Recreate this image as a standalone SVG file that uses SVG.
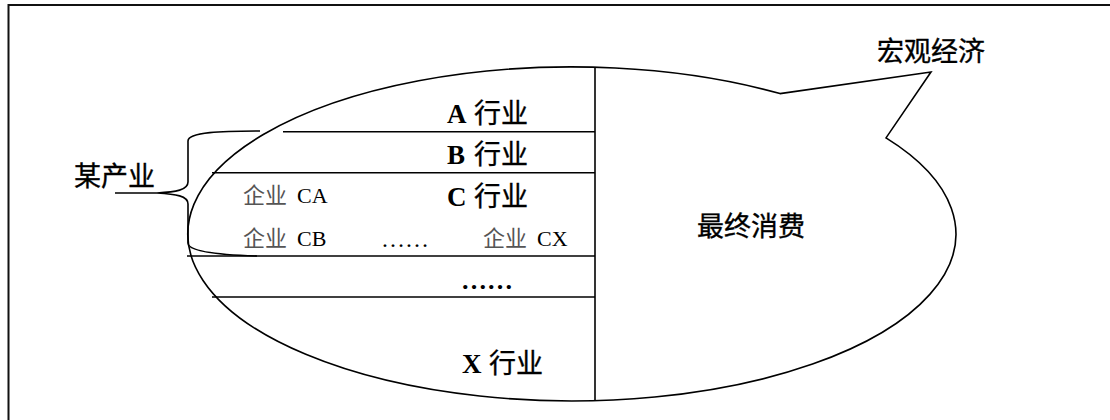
<svg xmlns="http://www.w3.org/2000/svg" width="1110" height="420" viewBox="0 0 1110 420">
<style>
.ln{fill:none;stroke:#000;stroke-width:1.6}
.frame{fill:none;stroke:#111;stroke-width:2}
.cjk{font-family:"Noto Sans CJK SC",sans-serif;font-size:27px;fill:#000;stroke:#000;stroke-width:0.35}
.lat{font-family:"Liberation Serif",serif;font-weight:bold;stroke:none}
.sm{font-family:"Noto Sans CJK SC",sans-serif;font-size:22px;fill:#555}
.smlat{font-family:"Liberation Serif",serif;font-size:22px;fill:#000}
</style>
<rect x="0" y="0" width="1110" height="420" fill="#fff"/>
<path class="frame" d="M8.5,425 L8.5,5 L1115,5"/>
<g id="callout">
<path class="ln" d="M780,93.6 L931,72 L886,137.9 A384,167 0 1 1 780,93.6 Z"/>
</g>
<g id="connectors">
<line class="ln" x1="595" y1="67.3" x2="595" y2="401"/>
<line class="ln" x1="283" y1="131.7" x2="595" y2="131.7"/>
<line class="ln" x1="212" y1="172.7" x2="595" y2="172.7"/>
<line class="ln" x1="187" y1="256" x2="595" y2="256"/>
<line class="ln" x1="212" y1="297" x2="595" y2="297"/>
<path class="ln" d="M260,131 C222,131 188,132 188,141 L188,182 C188,190 176,192 157,193 L115,193 M157,193 C176,194 188,196 188,204 L188,243 C188,252 222,255 257,256"/>
</g>
<g id="macro"><text class="cjk" x="877" y="61">宏观经济</text></g>
<g id="industry"><text class="cjk" x="74" y="186">某产业</text></g>
<g id="final"><text class="cjk" x="697" y="236">最终消费</text></g>
<g id="A"><text class="cjk" x="447" y="123"><tspan class="lat">A</tspan><tspan x="474">行业</tspan></text></g>
<g id="B"><text class="cjk" x="447" y="164"><tspan class="lat">B</tspan><tspan x="474">行业</tspan></text></g>
<g id="C"><text class="cjk" x="447" y="206"><tspan class="lat">C</tspan><tspan x="474">行业</tspan></text></g>
<g id="CA"><text class="sm" x="243" y="203">企业<tspan class="smlat" x="297">CA</tspan></text></g>
<g id="CB"><text class="sm" x="243" y="246">企业<tspan class="smlat" x="297">CB</tspan></text></g>
<g id="dots1"><text class="smlat" style="font-size:24px" x="381" y="247">……</text></g>
<g id="CX"><text class="sm" x="483" y="246">企业<tspan class="smlat" x="537">CX</tspan></text></g>
<g id="dots2"><text class="lat" style="font-size:26px" x="461" y="289">……</text></g>
<g id="X"><text class="cjk" x="462" y="373"><tspan class="lat">X</tspan><tspan x="489">行业</tspan></text></g>
</svg>
